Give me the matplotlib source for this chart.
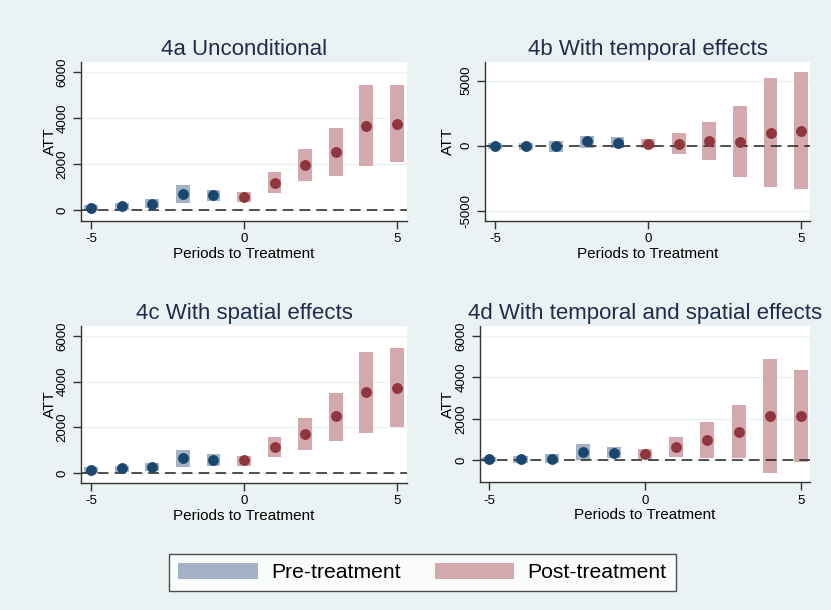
import numpy as np
import matplotlib.pyplot as plt
from matplotlib.patches import Patch

plt.rcParams['font.family'] = ['Liberation Sans', 'DejaVu Sans']

# event-study estimates
periods = [-5, -4, -3, -2, -1, 0, 1, 2, 3, 4, 5]

att_a = [100, 190, 280, 710, 650, 580, 1190, 1960, 2520, 3680, 3770]
lo_a = [-50, 30, 100, 335, 380, 350, 730, 1280, 1480, 1940, 2100]
hi_a = [220, 330, 470, 1080, 900, 800, 1670, 2660, 3570, 5440, 5440]

att_b = [-50, -50, -50, 360, 230, 100, 150, 360, 310, 1000, 1160]
lo_b = [-280, -330, -460, -180, -150, -200, -640, -1080, -2400, -3220, -3350]
hi_b = [180, 180, 390, 750, 640, 490, 950, 1800, 3070, 5200, 5640]

att_c = [115, 220, 280, 640, 580, 550, 1160, 1700, 2490, 3530, 3740]
lo_c = [15, 30, 100, 275, 330, 320, 710, 1020, 1420, 1770, 2000]
hi_c = [250, 330, 440, 1000, 830, 760, 1580, 2400, 3520, 5300, 5480]

att_d = [65, 80, 80, 415, 370, 290, 660, 975, 1390, 2140, 2140]
lo_d = [-80, -145, -130, 15, 110, 50, 145, 95, 95, -610, -80]
hi_d = [160, 225, 300, 800, 655, 545, 1150, 1860, 2670, 4910, 4370]

titles = ['4a Unconditional', '4b With temporal effects',
          '4c With spatial effects', '4d With temporal and spatial effects']
yticks_ab = [[0, 2000, 4000, 6000], [-5000, 0, 5000]]
yticks_cd = [[0, 2000, 4000, 6000], [0, 2000, 4000, 6000]]

bg = '#EAF2F3'
pre_box, pre_dot = '#A3B3C5', '#1A476F'
post_box, post_dot = '#D4A9AD', '#90353B'
title_col = '#1E2D4E'

W, H = 831, 610
fig = plt.figure(figsize=(W / 100, H / 100), dpi=100, facecolor=bg)

# (left, right, top, bottom) in pixels
boxes = [(81, 407, 62, 221), (485, 810, 62, 221),
         (81, 407, 326, 483), (480, 810, 326, 482)]
ylims = [(-470, 6450), (-5800, 6440), (-436, 6440), (-1040, 6480)]
xlims = [(-5.33, 5.33), (-5.33, 5.29), (-5.33, 5.33), (-5.3, 5.29)]
label_x = [-0.074, -0.092, -0.074, -0.076]
data = [(att_a, lo_a, hi_a), (att_b, lo_b, hi_b),
        (att_c, lo_c, hi_c), (att_d, lo_d, hi_d)]
yticks = yticks_ab + yticks_cd

x = np.array(periods)
for i in range(4):
    l, r, t, b = boxes[i]
    ax = fig.add_axes([l / W, 1 - b / H, (r - l) / W, (b - t) / H])
    ax.set_facecolor('white')
    att, lo, hi = [np.array(v) for v in data[i]]
    pre = x < 0
    post = x >= 0

    for yt in yticks[i]:
        ax.axhline(yt, color=bg, lw=1.0, zorder=0)

    ax.bar(x[pre], hi[pre] - lo[pre], bottom=lo[pre], width=0.45,
           color=pre_box, zorder=1)
    ax.bar(x[post], hi[post] - lo[post], bottom=lo[post], width=0.45,
           color=post_box, zorder=1)
    ax.axhline(0, color='#222222', lw=1.1, linestyle=(0, (7, 4)), zorder=2)
    ax.plot(x[pre], att[pre], 'o', color=pre_dot, ms=6.8, zorder=3)
    ax.plot(x[post], att[post], 'o', color=post_dot, ms=6.8, zorder=3)

    ax.set_xlim(*xlims[i])
    ax.set_ylim(*ylims[i])
    ax.set_xticks([-5, 0, 5])
    ax.set_xticklabels(['-5', '0', '5'])
    ax.set_yticks(yticks[i])
    ax.set_yticklabels([str(v) for v in yticks[i]], rotation=90, va='center')

    for s in ['top', 'right']:
        ax.spines[s].set_visible(False)
    for s in ['left', 'bottom']:
        ax.spines[s].set_color('#333333')
        ax.spines[s].set_linewidth(1.0)
    ax.tick_params(length=6, width=1.0, color='#333333', labelsize=9.5,
                   pad=3, labelcolor='black')

    ax.set_title(titles[i], fontsize=16, color=title_col, pad=5)
    ax.set_xlabel('Periods to Treatment', fontsize=11, labelpad=1)
    ax.set_ylabel('ATT', fontsize=11)
    ax.yaxis.set_label_coords(label_x[i], 0.5)

handles = [Patch(facecolor=pre_box, edgecolor='none', label='Pre-treatment'),
           Patch(facecolor=post_box, edgecolor='none', label='Post-treatment')]
leg = fig.legend(handles=handles, loc='center', bbox_to_anchor=(422.5 / W, 1 - 572.5 / H),
                 ncol=2, fontsize=15.2, frameon=True, fancybox=False,
                 handlelength=3.75, handleheight=0.8, handletextpad=0.65,
                 columnspacing=1.6, borderpad=0.42)
leg.get_frame().set_edgecolor('#222222')
leg.get_frame().set_linewidth(1.0)
leg.get_frame().set_facecolor('white')

fig.savefig('out.png', dpi=100, facecolor=bg)
